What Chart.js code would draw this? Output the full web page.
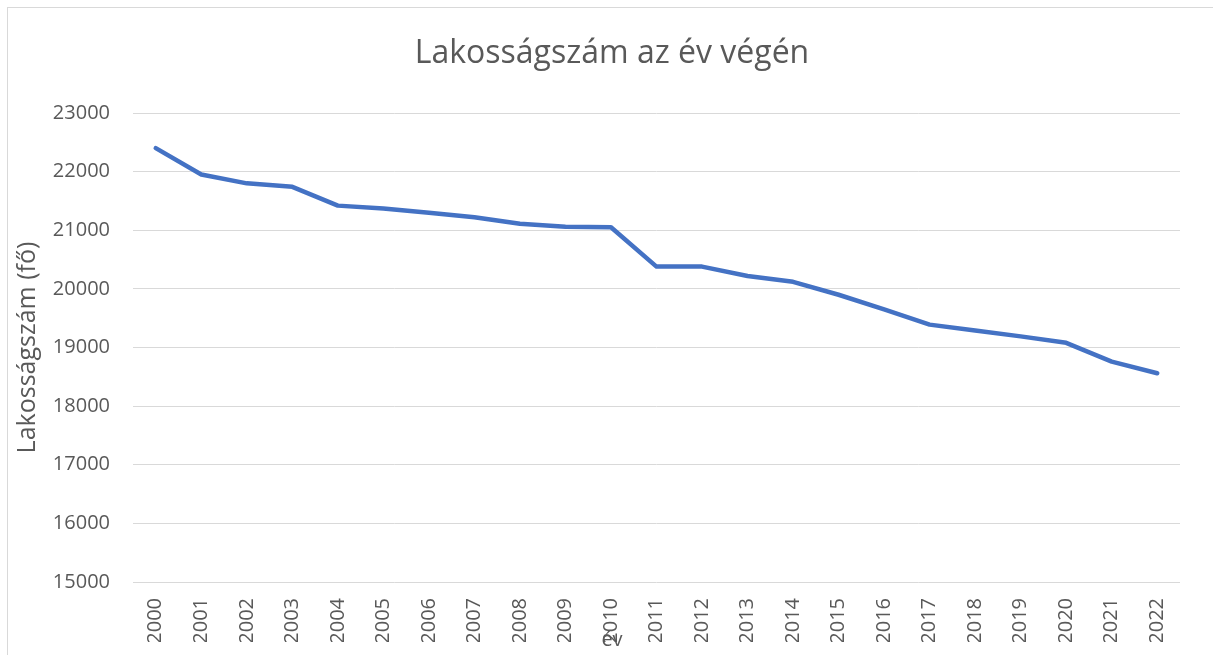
<!DOCTYPE html>
<html>
<head>
<meta charset="utf-8">
<script src="https://cdn.jsdelivr.net/npm/chart.js@4"></script>
<style>
    html, body { margin: 0; padding: 0; background: #fff; overflow: hidden; }
    #frame {
        position: absolute; left: 7px; top: 7px;
        width: 1300px; height: 800px;
        border: 1px solid #d9d9d9;
    }
    #wrap { position: absolute; left: 0; top: 0; width: 1213px; height: 655px; }
</style>
</head>
<body>
<div id="frame"></div>
<div id="wrap"><canvas id="chart"></canvas></div>
<script>
const years = ["2000", "2001", "2002", "2003", "2004", "2005", "2006", "2007", "2008", "2009", "2010",
    "2011", "2012", "2013", "2014", "2015", "2016", "2017", "2018", "2019", "2020", "2021", "2022"];

const lakossag = [22400, 21950, 21800, 21740, 21420, 21370, 21300, 21220, 21110, 21060, 21050,
    20380, 20380, 20220, 20120, 19900, 19650, 19390, 19290, 19190, 19080, 18760, 18560];

const Y_MIN = 15000;
const Y_MAX = 23000;
const Y_STEP = 1000;

const TEXT = "#595959";
const FONT = "'Open Sans', sans-serif";

new Chart(document.getElementById("chart"), {
    type: "line",
    data: {
        labels: years,
        datasets: [{
            data: lakossag,
            borderColor: "#4472c4",
            borderWidth: 4.5,
            borderCapStyle: "round",
            borderJoinStyle: "round",
            pointRadius: 0,
            tension: 0,
            fill: false
        }]
    },
    options: {
        responsive: true,
        maintainAspectRatio: false,
        animation: false,
        layout: { padding: { left: 44, right: 33, top: 0, bottom: 0 } },
        plugins: {
            legend: { display: false },
            tooltip: { enabled: false },
            title: {
                display: true,
                text: "Lakosságszám az év végén",
                color: TEXT,
                font: { family: FONT, size: 32, weight: "normal" },
                padding: { top: 35, bottom: 39.6 }
            },
            subtitle: {
                display: true,
                text: "év",
                position: "bottom",
                color: TEXT,
                font: { family: FONT, size: 20, weight: "normal" },
                padding: { top: -14, bottom: 3 }
            }
        },
        scales: {
            x: {
                offset: true,
                afterFit: (scale) => { scale.height = 60; },
                grid: { display: false },
                border: { display: false },
                ticks: {
                    autoSkip: false,
                    minRotation: 90,
                    maxRotation: 90,
                    padding: 8,
                    color: TEXT,
                    font: { family: FONT, size: 20 }
                }
            },
            y: {
                min: Y_MIN,
                max: Y_MAX,
                afterFit: (scale) => { scale.width = 89; },
                border: { display: false },
                grid: { color: "#d9d9d9", lineWidth: 1, drawTicks: false },
                title: {
                    display: true,
                    text: "Lakosságszám (fő)",
                    color: TEXT,
                    font: { family: FONT, size: 25, weight: "normal" },
                    padding: { top: -31, bottom: 0 }
                },
                ticks: {
                    stepSize: Y_STEP,
                    padding: 23,
                    color: TEXT,
                    font: { family: FONT, size: 20 },
                    callback: (v) => String(v)
                }
            }
        }
    }
});
</script>
</body>
</html>
